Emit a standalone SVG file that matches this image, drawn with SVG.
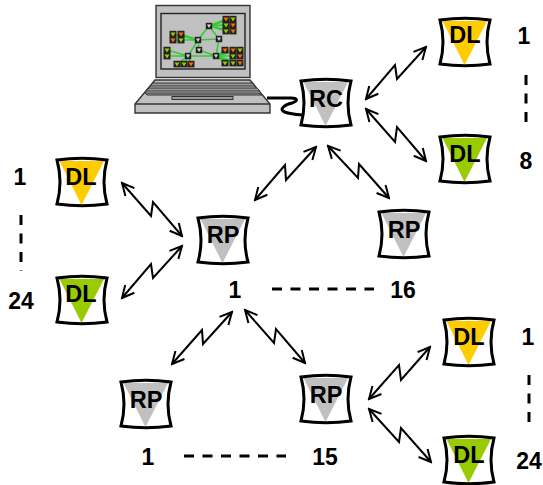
<svg xmlns="http://www.w3.org/2000/svg" width="543" height="485" viewBox="0 0 543 485">
<style>
text{font-family:"Liberation Sans",Arial,sans-serif;font-weight:bold;fill:#000}
.t{font-size:23.500px;text-anchor:middle}
.n{font-size:23px;text-anchor:middle}
.f{fill:#fff}
.o{fill:none;stroke:#000;stroke-width:3;stroke-linejoin:miter}
.a{fill:none;stroke:#000;stroke-width:2;stroke-linejoin:miter;marker-start:url(#h);marker-end:url(#h)}
.d{fill:none;stroke:#000;stroke-width:3;stroke-dasharray:10 8.500}
.y{fill:#ffcc00}.g{fill:#99cc00}.r{fill:#c0c0c0}
.l{stroke:#33cc33;stroke-width:1.500;fill:none}
</style>
<defs>
<marker id="h" viewBox="-14 -8 16 16" markerUnits="userSpaceOnUse" markerWidth="16" markerHeight="16" orient="auto-start-reverse" refX="0" refY="0">
<path d="M-12,-6 L0,0 L-12,6" fill="none" stroke="#000" stroke-width="2"/>
</marker>
<path id="b" d="M0,2 Q25,-1.500 50,2 Q44,24 50,46 Q25,49.500 0,46 Q6,24 0,2 Z"/>
<path id="t" d="M2.500,3 L47,3 L24.500,47 Z"/>
<g id="mr"><rect x="-3.200" y="-3.200" width="6.400" height="6.400" fill="#222"/><path d="M-2,-1.500 H2 L0,2 Z" fill="#ddd"/></g>
<g id="mg"><rect x="-3.500" y="-3.200" width="7" height="6.600" fill="#222"/><path d="M-2.500,-1.500 H2.500 L0,2.500 Z" fill="#99cc00"/></g>
<g id="mo"><rect x="-3.500" y="-3.200" width="7" height="6.600" fill="#222"/><path d="M-2.500,-1.500 H2.500 L0,2.500 Z" fill="#ff6600"/></g>
</defs>

<g id="laptop">
<rect x="156" y="5.500" width="94" height="72" fill="#c0c0c0" stroke="#333" stroke-width="1.400"/>
<rect x="161" y="13.500" width="84" height="55.500" fill="#c0c0c0" stroke="#222" stroke-width="1.400"/>
<g class="l">
<path d="M209,26 L198,40 L219,39 L209,26 M198,40 L199,50 L216,56 L219,39 M198,40 L188,56 L216,56 M188,56 L167,50 M188,56 L167,56 M188,56 L177,64 M188,56 L184,64 M188,56 L191,64"/>
<path d="M209,26 L226,19 M209,26 L233,19 M209,26 L226,25 M209,26 L233,25 M209,26 L226,31 M209,26 L233,31"/>
<path d="M198,40 L173,34 M198,40 L181,34 M198,40 L173,40 M198,40 L181,40"/>
<path d="M216,56 L225,50 M216,56 L233,50 M216,56 L240,50 M216,56 L233,56 M216,56 L240,56 M216,56 L225,63 M216,56 L233,63 M216,56 L240,63"/>
</g>
<use href="#mr" x="209" y="26"/><use href="#mr" x="198" y="40"/><use href="#mr" x="219" y="39"/><use href="#mr" x="199" y="50"/><use href="#mr" x="188" y="56"/><use href="#mr" x="216" y="56"/>
<use href="#mo" x="226" y="19"/><use href="#mg" x="233" y="19"/><use href="#mg" x="226" y="25"/><use href="#mo" x="233" y="25"/><use href="#mg" x="226" y="31"/><use href="#mo" x="233" y="31"/>
<use href="#mg" x="173" y="34"/><use href="#mo" x="181" y="34"/><use href="#mo" x="173" y="40"/><use href="#mg" x="181" y="40"/>
<use href="#mg" x="167" y="50"/><use href="#mg" x="167" y="56"/>
<use href="#mg" x="177" y="64"/><use href="#mg" x="184" y="64"/><use href="#mo" x="191" y="64"/>
<use href="#mo" x="225" y="50"/><use href="#mo" x="233" y="50"/><use href="#mg" x="240" y="50"/><use href="#mg" x="233" y="56"/><use href="#mo" x="240" y="56"/><use href="#mg" x="225" y="63"/><use href="#mg" x="233" y="63"/><use href="#mo" x="240" y="63"/>
<path d="M155,80 H250 L270,104 V113 H135 V104 Z" fill="#c0c0c0" stroke="#333" stroke-width="1.400"/>
<path d="M135,104 H270" fill="none" stroke="#333" stroke-width="1.400"/>
<path d="M153,83 H252 L255,86 H150 Z M149,88 H257 L260,91 H146 Z M145,93 H258 L262,95 H147 Z" fill="#999" stroke="#333" stroke-width="1"/>
<rect x="172" y="96.500" width="61" height="3" fill="#999" stroke="#333" stroke-width="1"/>
<path d="M267,98 H291 C298,98 298,101 292,103 C284,105 280,109 283,111 C287,114 295,114 302,115" fill="none" stroke="#000" stroke-width="3"/>
</g>

<g id="connectors">
<polyline class="a" points="122,183 151,216 153,202 182,236"/>
<polyline class="a" points="122,298 151,264 153,278 182,246"/>
<polyline class="a" points="366,99 395,65 397,79 426,47"/>
<polyline class="a" points="366,109 395,142 397,127 426,161"/>
<polyline class="a" points="255,200 285,165 286,180 316,147"/>
<polyline class="a" points="328,146 358,178 359,164 389,198"/>
<polyline class="a" points="172,364 202,330 203,344 232,312"/>
<polyline class="a" points="245,310 274,343 276,329 305,363"/>
<polyline class="a" points="369,399 399,365 401,380 430,347"/>
<polyline class="a" points="369,409 399,442 401,428 431,462"/>
</g>

<g id="rc" transform="translate(301,79)"><use href="#b" class="f"/><use href="#t" class="r"/><use href="#b" class="o"/><text class="t" x="25" y="28">RC</text></g>
<g id="dl-r1" transform="translate(440,18)"><use href="#b" class="f"/><use href="#t" class="y"/><use href="#b" class="o"/><text class="t" x="25" y="25">DL</text></g>
<g id="dl-r8" transform="translate(440,135)"><use href="#b" class="f"/><use href="#t" class="g"/><use href="#b" class="o"/><text class="t" x="25" y="27">DL</text></g>
<g id="dl-l1" transform="translate(57,158)"><use href="#b" class="f"/><use href="#t" class="y"/><use href="#b" class="o"/><text class="t" x="24" y="27">DL</text></g>
<g id="dl-l24" transform="translate(57,276)"><use href="#b" class="f"/><use href="#t" class="g"/><use href="#b" class="o"/><text class="t" x="24" y="26">DL</text></g>
<g id="rp-1" transform="translate(198,216)"><use href="#b" class="f"/><use href="#t" class="r"/><use href="#b" class="o"/><text class="t" x="25" y="27">RP</text></g>
<g id="rp-16" transform="translate(379,210)"><use href="#b" class="f"/><use href="#t" class="r"/><use href="#b" class="o"/><text class="t" x="25" y="28">RP</text></g>
<g id="rp-b1" transform="translate(121,380)"><use href="#b" class="f"/><use href="#t" class="r"/><use href="#b" class="o"/><text class="t" x="25" y="28">RP</text></g>
<g id="rp-b15" transform="translate(301,375)"><use href="#b" class="f"/><use href="#t" class="r"/><use href="#b" class="o"/><text class="t" x="25" y="28">RP</text></g>
<g id="dl-b1" transform="translate(444,318)"><use href="#b" class="f"/><use href="#t" class="y"/><use href="#b" class="o"/><text class="t" x="25" y="27">DL</text></g>
<g id="dl-b24" transform="translate(444,436)"><use href="#b" class="f"/><use href="#t" class="g"/><use href="#b" class="o"/><text class="t" x="25" y="27">DL</text></g>

<g id="labels">
<text class="n" x="524" y="44">1</text>
<text class="n" x="526" y="169">8</text>
<text class="n" x="20" y="185">1</text>
<text class="n" x="21" y="309">24</text>
<text class="n" x="235" y="298">1</text>
<text class="n" x="403" y="298">16</text>
<text class="n" x="148" y="465">1</text>
<text class="n" x="325" y="465">15</text>
<text class="n" x="528" y="345">1</text>
<text class="n" x="529" y="469">24</text>
<path class="d" d="M526,75 V130"/>
<path class="d" d="M21,215 V271"/>
<path class="d" d="M272,289 H374"/>
<path class="d" d="M184,456 H286"/>
<path class="d" d="M529,375 V430"/>
</g>
</svg>
